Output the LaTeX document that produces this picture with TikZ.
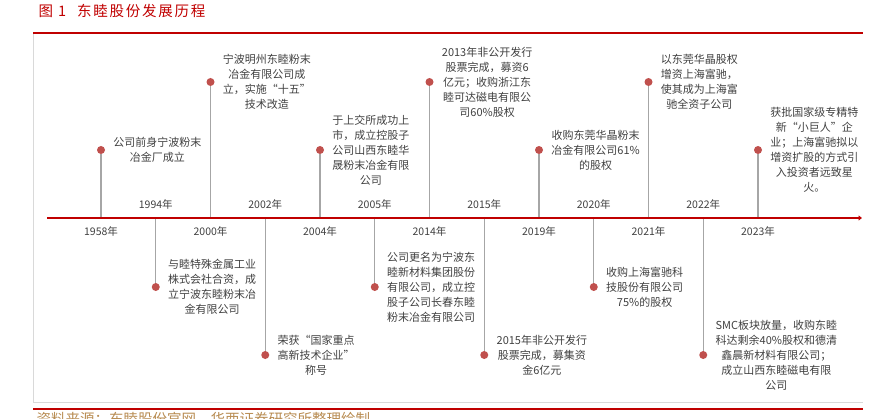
\documentclass[tikz,border=0pt]{standalone}
\usepackage{fontspec}
\setmainfont{Noto Sans CJK SC}
\newfontfamily\titlefont[LetterSpace=12]{Noto Sans CJK SC}
\usepackage{tikz}
\usetikzlibrary{arrows.meta,positioning}
\definecolor{hxred}{RGB}{192,0,0}
\definecolor{dotred}{RGB}{192,80,77}
\definecolor{stemgray}{RGB}{166,166,166}
\definecolor{framegray}{RGB}{217,217,217}
\definecolor{textgray}{RGB}{64,64,64}
\definecolor{srcbrown}{RGB}{184,140,82}
\tikzset{
  redrule/.style={line width=2.4pt,draw=hxred},
  grayframe/.style={line width=0.8pt,draw=framegray},
  evdot/.style={circle,fill=dotred,inner sep=0pt,minimum size=8pt},
  stemline/.style={line width=1.1pt,draw=stemgray}
}

\begin{document}
\begin{tikzpicture}[
  x=1pt,y=1pt,
  axisline/.style={-{Triangle[length=3.5pt,width=5pt]},line width=2.2pt,draw=hxred},
  desc/.style={font=\fontsize{11}{15}\selectfont,align=center,text=textgray,inner sep=0pt},
  yearlab/.style={font=\fontsize{10.5}{12}\selectfont,text=textgray,inner sep=0pt}
]
\clip (0,0) rectangle (888,418);

% title, frame and source
\node[anchor=west,text=hxred,font=\titlefont\fontsize{14.5}{16}\selectfont] (title) at (35,407)
  {图\hspace{5pt}1\hspace{11pt}东睦股份发展历程};
\draw[grayframe] (33,385) -- (33,16) -- (863,16);
\draw[redrule] (33,385) -- (863,385);
\draw[redrule] (33,9) -- (863,9);
\node[anchor=base west,text=srcbrown,font=\fontsize{14.5}{16}\selectfont] (src) at (33,-6)
  {资料来源：东睦股份官网，华西证券研究所整理绘制};

% events above the axis
\foreach \yr/\x/\dy in {1958/101/268,2000/210.5/336,2004/320/268,2014/429.5/336,
                        2019/539/268,2021/648.5/336,2023/758/268}{
  \coordinate (a\yr) at (\x,200);
  \node[evdot] (d\yr) at (\x,\dy) {};
  \draw[stemline] (d\yr) -- (a\yr);
  \node[yearlab,below=8pt of a\yr] (y\yr) {\yr 年};
}

% events below the axis
\foreach \yr/\x/\dy in {1994/155.75/131,2002/265.25/63,2005/374.75/131,
                        2015/484.25/63,2020/593.75/131,2022/703.25/63}{
  \coordinate (a\yr) at (\x,200);
  \node[evdot] (d\yr) at (\x,\dy) {};
  \draw[stemline] (d\yr) -- (a\yr);
  \node[yearlab,above=8pt of a\yr] (y\yr) {\yr 年};
}

\coordinate (axL) at (47,200);
\coordinate (axR) at (862,200);
\draw[axisline] (axL) -- (axR);

\node[desc,right=8pt of d1958] (t1958) {公司前身宁波粉末\\冶金厂成立};
\node[desc,right=8pt of d2000] (t2000) {宁波明州东睦粉末\\冶金有限公司成\\立，实施“十五”\\技术改造};
\node[desc,right=8pt of d2004] (t2004) {于上交所成功上\\市，成立控股子\\公司山西东睦华\\晟粉末冶金有限\\公司};
\node[desc,right=8pt of d2014] (t2014) {2013年非公开发行\\股票完成，募资6\\亿元；收购浙江东\\睦可达磁电有限公\\司60\%股权};
\node[desc,right=8pt of d2019] (t2019) {收购东莞华晶粉末\\冶金有限公司61\%\\的股权};
\node[desc,right=8pt of d2021] (t2021) {以东莞华晶股权\\增资上海富驰，\\使其成为上海富\\驰全资子公司};
\node[desc,right=8pt of d2023] (t2023) {获批国家级专精特\\新“小巨人”企\\业；上海富驰拟以\\增资扩股的方式引\\入投资者远致星\\火。};

\node[desc,right=8pt of d1994] (t1994) {与睦特殊金属工业\\株式会社合资，成\\立宁波东睦粉末冶\\金有限公司};
\node[desc,right=8pt of d2002] (t2002) {荣获“国家重点\\高新技术企业”\\称号};
\node[desc,right=8pt of d2005] (t2005) {公司更名为宁波东\\睦新材料集团股份\\有限公司，成立控\\股子公司长春东睦\\粉末冶金有限公司};
\node[desc,right=8pt of d2015] (t2015) {2015年非公开发行\\股票完成，募集资\\金6亿元};
\node[desc,right=8pt of d2020] (t2020) {收购上海富驰科\\技股份有限公司\\75\%的股权};
\node[desc,right=8pt of d2022] (t2022) {SMC板块放量，收购东睦\\科达剩余40\%股权和德清\\鑫晨新材料有限公司；\\成立山西东睦磁电有限\\公司};

\end{tikzpicture}
\end{document}
